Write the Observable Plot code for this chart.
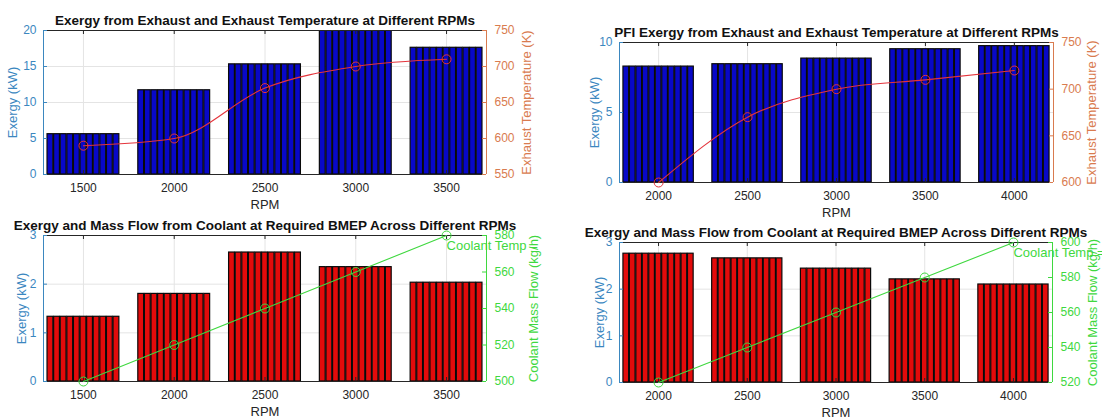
<!DOCTYPE html>
<html>
<head>
<meta charset="utf-8">
<script src="https://cdn.jsdelivr.net/npm/d3@7"></script>
<script src="https://cdn.jsdelivr.net/npm/@observablehq/plot@0.6"></script>
<style>
  body { margin: 0; background: #fff; }
  #fig { position: relative; width: 1102px; height: 419px; overflow: hidden; background: #fff; }
  .half { position: absolute; top: 0; height: 419px; overflow: hidden; }
  .panel { position: absolute; left: 0; }
  .panel svg { position: absolute; left: 0; top: 0; }
</style>
</head>
<body>
<div id="fig">
  <div class="half" id="left" style="left:0;width:550px"></div>
  <div class="half" id="right" style="left:550px;width:552px"></div>
</div>
<script>
// Engine speeds for the two engine configurations
const rpmSI = [1500, 2000, 2500, 3000, 3500];
const rpmPFI = [2000, 2500, 3000, 3500, 4000];

// Exhaust exergy (kW) and exhaust temperature (K)
const exhaustExergySI = [5.6, 11.7, 15.3, 20.5, 17.6];
const exhaustTempSI = [590, 600, 670, 700, 710];
const exhaustExergyPFI = [8.28, 8.45, 8.85, 9.52, 9.74];
const exhaustTempPFI = [600, 670, 700, 710, 720];

// Coolant exergy (kW) and coolant mass flow (kg/h)
const coolantExergySI = [1.33, 1.80, 2.65, 2.35, 2.03];
const coolantFlowSI = [500, 520, 540, 560, 580];
const coolantExergyPFI = [2.76, 2.66, 2.44, 2.21, 2.10];
const coolantFlowPFI = [520, 540, 560, 580, 600];

// Axis ticks
const exergyTicksSI = [0, 5, 10, 15, 20];
const exergyTicksPFI = [0, 5, 10];
const coolantExergyTicks = [0, 1, 2, 3];
const tempTicksSI = [550, 600, 650, 700, 750];
const tempTicksPFI = [600, 650, 700, 750];
const flowTicksSI = [500, 520, 540, 560, 580];
const flowTicksPFI = [520, 540, 560, 580, 600];

const titleExhaust = "Exergy from Exhaust and Exhaust Temperature at Different RPMs";
const titleExhaustPFI = "PFI Exergy from Exhaust and Exhaust Temperature at Different RPMs";
const titleCoolant = "Exergy and Mass Flow from Coolant at Required BMEP Across Different RPMs";

const FONT = "'Liberation Sans', Arial, Helvetica, sans-serif";
const axisDark = "#262626";
const blueAxis = "#3b87bf";
const orangeAxis = "#d97b4f";
const greenAxis = "#3fd83f";
const gridColor = "#e4e4e4";
const redLine = "#e4343c";
const barBlue = "#0808c8";
const barRed = "#e30b0b";

// Each RPM group is drawn as a cluster of identical narrow bars (grouped bar look)
const SUBBARS = 11;
const GROUP_HALF = 200;
function clusterRows(rpm, values) {
  const slot = (2 * GROUP_HALF) / SUBBARS;
  return rpm.flatMap((r, g) => d3.range(SUBBARS).map(i => {
    const c = r - GROUP_HALF + (i + 0.5) * slot;
    return {x1: c - slot * 0.44, x2: c + slot * 0.44, y: values[g]};
  }));
}

function panel(host, cfg) {
  const {width, height, top, mL, mR, mT, mB, xDomain, rpm, exergy, barFill,
         yDomain, yTicks, y2Values, y2Domain, y2Ticks, y2Color, lineColor, curve,
         title, y2Label, leftDx, rightDx, note} = cfg;
  const fw = width - mL - mR, fh = height - mT - mB;
  const common = {
    width, height, marginLeft: mL, marginRight: mR, marginTop: mT, marginBottom: mB,
    style: {fontFamily: FONT, fontSize: "12px", background: "transparent", overflow: "visible"}
  };
  const fmt = d => String(d);

  const base = Plot.plot({
    ...common,
    x: {type: "linear", domain: xDomain},
    y: {type: "linear", domain: yDomain},
    marks: [
      Plot.gridX({ticks: rpm, stroke: gridColor, strokeOpacity: 1}),
      Plot.gridY({ticks: yTicks, stroke: gridColor, strokeOpacity: 1}),
      Plot.rectY(clusterRows(rpm, exergy), {x1: "x1", x2: "x2", y: "y", fill: barFill,
        stroke: "#0a0a0a", strokeWidth: 1.2, clip: true}),
      Plot.ruleY([yDomain[1]], {stroke: axisDark}),
      Plot.ruleY([yDomain[0]], {stroke: axisDark}),
      Plot.ruleX([xDomain[0]], {stroke: blueAxis}),
      Plot.tickX(rpm, {x: d => d, insetTop: fh - 4, stroke: axisDark}),
      Plot.tickX(rpm, {x: d => d, insetBottom: fh - 4, stroke: axisDark}),
      Plot.tickY(yTicks, {y: d => d, insetRight: fw - 4, stroke: blueAxis}),
      Plot.axisX({ticks: rpm, tickSize: 0, tickPadding: 9, tickFormat: fmt, label: null,
        color: axisDark, fontSize: 12}),
      Plot.axisY({ticks: yTicks, tickSize: 0, tickPadding: 7, tickFormat: fmt, label: null,
        color: blueAxis, fontSize: 12}),
      Plot.text([title], {text: d => d, frameAnchor: "top", lineAnchor: "middle", dy: -10,
        fontWeight: "bold", fontSize: 13.5, fill: "#111"}),
      Plot.text(["RPM"], {text: d => d, frameAnchor: "bottom", lineAnchor: "middle", dy: 30,
        fontSize: 13, fill: axisDark}),
      Plot.text(["Exergy (kW)"], {text: d => d, frameAnchor: "left", textAnchor: "middle",
        lineAnchor: "middle", rotate: -90, dx: leftDx, fontSize: 13, fill: blueAxis})
    ]
  });

  const pts = rpm.map((r, i) => ({x: r, y: y2Values[i]}));
  const overlay = Plot.plot({
    ...common,
    x: {type: "linear", domain: xDomain, axis: null},
    y: {type: "linear", domain: y2Domain},
    marks: [
      Plot.line(pts, {x: "x", y: "y", stroke: lineColor, strokeWidth: 1.1, curve}),
      Plot.dot(pts, {x: "x", y: "y", r: 4.5, stroke: lineColor, strokeWidth: 1, fill: "none"}),
      Plot.ruleX([xDomain[1]], {stroke: y2Color}),
      Plot.tickY(y2Ticks, {y: d => d, insetLeft: fw - 4, stroke: y2Color}),
      Plot.axisY({anchor: "right", ticks: y2Ticks, tickSize: 0, tickPadding: 8, tickFormat: fmt,
        label: null, color: y2Color, fontSize: 12}),
      Plot.text([y2Label], {text: d => d, frameAnchor: "right", textAnchor: "middle",
        lineAnchor: "middle", rotate: -90, dx: rightDx, fontSize: 13, fill: y2Color}),
      ...(note ? [Plot.text(pts.slice(-1), {x: "x", y: "y", text: () => note, dy: 10,
        textAnchor: "start", lineAnchor: "middle", fontSize: 13, fill: y2Color})] : [])
    ]
  });

  const div = document.createElement("div");
  div.className = "panel";
  div.style.top = top + "px";
  div.style.width = width + "px";
  div.style.height = height + "px";
  div.appendChild(base);
  div.appendChild(overlay);
  host.appendChild(div);
}

const left = document.getElementById("left");
const right = document.getElementById("right");

panel(left, {
  width: 550, height: 210, top: 0, mL: 43, mR: 64, mT: 30, mB: 36,
  xDomain: [1280, 3720], rpm: rpmSI, exergy: exhaustExergySI, barFill: barBlue,
  yDomain: [0, 20], yTicks: exergyTicksSI,
  y2Values: exhaustTempSI, y2Domain: [550, 750], y2Ticks: tempTicksSI, y2Color: orangeAxis,
  lineColor: redLine, curve: "monotone-x",
  title: titleExhaust, y2Label: "Exhaust Temperature (K)", leftDx: -31, rightDx: 40
});

panel(right, {
  width: 552, height: 210, top: 0, mL: 69, mR: 49, mT: 42, mB: 28,
  xDomain: [1780, 4220], rpm: rpmPFI, exergy: exhaustExergyPFI, barFill: barBlue,
  yDomain: [0, 10], yTicks: exergyTicksPFI,
  y2Values: exhaustTempPFI, y2Domain: [600, 750], y2Ticks: tempTicksPFI, y2Color: orangeAxis,
  lineColor: redLine, curve: "monotone-x",
  title: titleExhaustPFI, y2Label: "Exhaust Temperature (K)", leftDx: -25, rightDx: 38
});

panel(left, {
  width: 550, height: 209, top: 210, mL: 43, mR: 64, mT: 25, mB: 38,
  xDomain: [1280, 3720], rpm: rpmSI, exergy: coolantExergySI, barFill: barRed,
  yDomain: [0, 3], yTicks: coolantExergyTicks,
  y2Values: coolantFlowSI, y2Domain: [500, 580], y2Ticks: flowTicksSI, y2Color: greenAxis,
  lineColor: greenAxis, curve: "linear",
  title: titleCoolant, y2Label: "Coolant Mass Flow (kg/h)", leftDx: -22, rightDx: 47,
  note: "Coolant Temp ="
});

panel(right, {
  width: 552, height: 209, top: 210, mL: 69, mR: 50, mT: 32, mB: 37,
  xDomain: [1780, 4220], rpm: rpmPFI, exergy: coolantExergyPFI, barFill: barRed,
  yDomain: [0, 3], yTicks: coolantExergyTicks,
  y2Values: coolantFlowPFI, y2Domain: [520, 600], y2Ticks: flowTicksPFI, y2Color: greenAxis,
  lineColor: greenAxis, curve: "linear",
  title: titleCoolant, y2Label: "Coolant Mass Flow (kg/h)", leftDx: -20, rightDx: 40,
  note: "Coolant Temp ="
});
</script>
</body>
</html>
